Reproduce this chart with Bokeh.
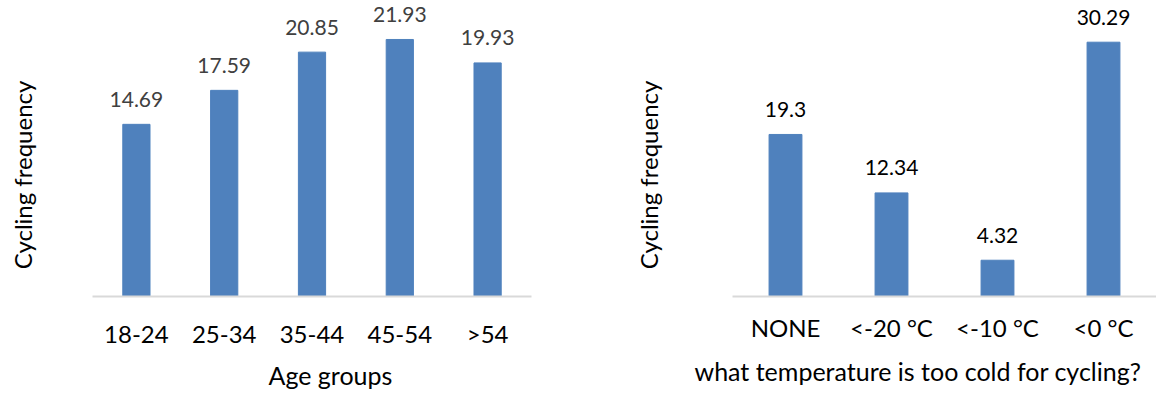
import math
from bokeh.plotting import figure
from bokeh.models import ColumnDataSource, LabelSet, Title, FactorRange, Range1d
from bokeh.core.properties import value
from bokeh.layouts import row
from bokeh.embed import file_html
from bokeh.resources import INLINE

age_groups = ["18-24", "25-34", "35-44", "45-54", ">54"]
age_values = [14.69, 17.59, 20.85, 21.93, 19.93]

temp_groups = ["NONE", "<-20 °C", "<-10 °C", "<0 °C"]
temp_values = [19.3, 12.34, 4.32, 30.29]

y_title = "Cycling frequency"
left_x_title = "Age groups"
right_x_title = "what temperature is too cold for cycling?"

FONT = "Lato"
BAR = "#4F81BD"
H = 396
TOP = 3
BOTTOM = 99


def make_ylabel(width, xfrac, yfrac):
    p = figure(width=width, height=H, x_range=Range1d(0, 1), y_range=Range1d(0, 1),
               x_axis_type=None, y_axis_type=None, output_backend="svg",
               toolbar_location=None, min_border_left=0, min_border_right=0,
               min_border_top=TOP, min_border_bottom=BOTTOM)
    p.outline_line_color = None
    p.xgrid.visible = False
    p.ygrid.visible = False
    p.text(x=[xfrac], y=[yfrac], text=[y_title], angle=math.pi / 2,
           text_align="center", text_baseline="middle", text_font=value(FONT),
           text_font_size="24px", text_color="black")
    return p


def make_chart(cats, vals, ymax, width, bl, br, lab_color,
               xtitle, xoff, xstand, standoff):
    src = ColumnDataSource(dict(cat=cats, val=vals,
                                txt=[("%g" % v) for v in vals]))
    p = figure(x_range=FactorRange(*cats, range_padding=0), y_range=Range1d(0, ymax),
               width=width, height=H, output_backend="svg",
               toolbar_location=None, min_border_left=bl, min_border_right=br,
               min_border_top=TOP, min_border_bottom=BOTTOM)
    p.vbar(x="cat", top="val", width=0.31, source=src, fill_color=BAR,
           line_color=BAR)
    p.add_layout(LabelSet(x="cat", y="val", text="txt", source=src,
                          y_offset=25, text_align="center",
                          text_baseline="middle", text_font=value(FONT),
                          text_font_size=value("21px"), text_color=lab_color))
    p.yaxis.visible = False
    p.xgrid.visible = False
    p.ygrid.visible = False
    p.outline_line_color = None
    ax = p.xaxis[0]
    ax.axis_line_color = "#D9D9D9"
    ax.axis_line_width = 2
    ax.major_tick_line_color = None
    ax.minor_tick_line_color = None
    ax.major_tick_out = 0
    ax.minor_tick_out = 0
    ax.major_label_text_font = FONT
    ax.major_label_text_font_size = "24px"
    ax.major_label_text_color = "black"
    ax.major_label_standoff = standoff
    p.add_layout(Title(text=xtitle, align="left", offset=xoff, standoff=xstand,
                       text_font=FONT, text_font_size="25px",
                       text_font_style="normal", text_color="black"), "below")
    return p


frame_h = H - TOP - BOTTOM
yfrac = (H - BOTTOM - 175) / frame_h

ylab_left = make_ylabel(45, 22 / 45, yfrac)
left = make_chart(age_groups, age_values, 25, 555, 47, 69, "#404040",
                  left_x_title, 176, 14, 22)
ylab_right = make_ylabel(72, 48 / 72, yfrac)
right = make_chart(temp_groups, temp_values, 34.9, 484, 60, 0, "black",
                   right_x_title, -38, 19, 16)

layout = row(ylab_left, left, ylab_right, right, spacing=0)
open("out.html", "w").write(file_html(layout, INLINE))
